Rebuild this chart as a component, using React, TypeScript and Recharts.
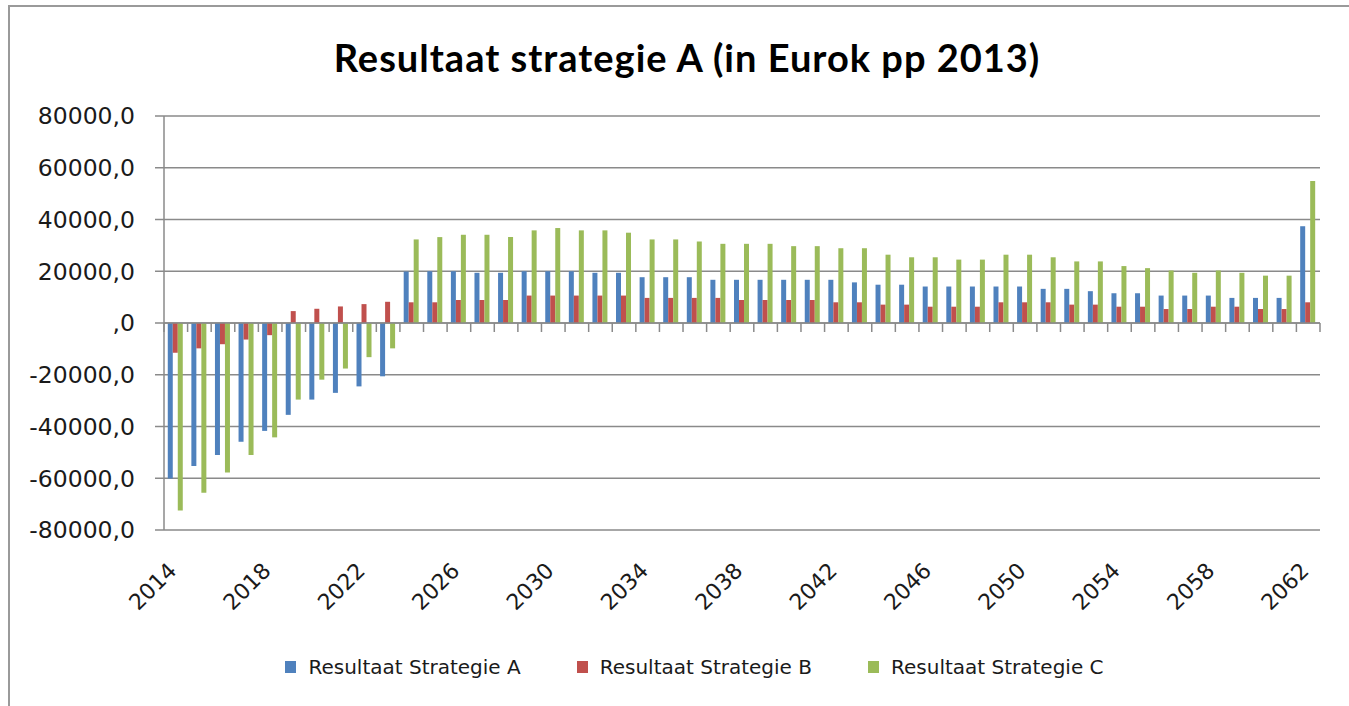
import React from 'react';
import { BarChart, Bar, XAxis, YAxis, CartesianGrid, ReferenceLine, Legend } from 'recharts';

const years = [
  '2014', '2015', '2016', '2017', '2018', '2019', '2020', '2021', '2022', '2023',
  '2024', '2025', '2026', '2027', '2028', '2029', '2030', '2031', '2032', '2033',
  '2034', '2035', '2036', '2037', '2038', '2039', '2040', '2041', '2042', '2043',
  '2044', '2045', '2046', '2047', '2048', '2049', '2050', '2051', '2052', '2053',
  '2054', '2055', '2056', '2057', '2058', '2059', '2060', '2061', '2062',
];

const strategieA = [
  -60100, -55300, -51000, -45900, -41700, -35500, -29600, -27000, -24500, -20600,
  19900, 20000, 20000, 19400, 19400, 20000, 20000, 20000, 19400, 19400,
  17700, 17700, 17700, 16700, 16700, 16700, 16700, 16700, 16700, 15700,
  14800, 14800, 14100, 14100, 14100, 14100, 14100, 13200, 13200, 12300,
  11500, 11500, 10600, 10600, 10600, 9700, 9700, 9700, 37400,
];

const strategieB = [
  -11500, -9800, -8200, -6400, -4700, 4600, 5500, 6400, 7300, 8200,
  8000, 8000, 8900, 8900, 8900, 10600, 10600, 10600, 10600, 10600,
  9700, 9700, 9700, 9700, 8900, 8900, 8900, 8900, 8000, 8000,
  7100, 7100, 6300, 6300, 6300, 8000, 8000, 8000, 7100, 7100,
  6300, 6300, 5400, 5400, 6300, 6300, 5400, 5400, 8000,
];

const strategieC = [
  -72500, -65600, -57800, -51000, -44200, -29600, -21900, -17600, -13200, -9800,
  32300, 33200, 34100, 34100, 33200, 35800, 36700, 35800, 35800, 34900,
  32300, 32300, 31500, 30600, 30600, 30600, 29700, 29700, 28900, 28900,
  26400, 25400, 25400, 24500, 24500, 26400, 26400, 25400, 23800, 23800,
  22000, 21200, 20300, 19400, 20300, 19400, 18300, 18300, 54900,
];

const yTicks = [-80000, -60000, -40000, -20000, 0, 20000, 40000, 60000, 80000];

const seriesKeys = ['A', 'B', 'C'];
const seriesNames = ['Resultaat Strategie A', 'Resultaat Strategie B', 'Resultaat Strategie C'];
const seriesColors = ['#4F81BD', '#C0504D', '#9BBB59'];

const titleText = 'Resultaat strategie A (in Eurok pp 2013)';

const data = years.map((year, i) => ({
  year,
  A: strategieA[i],
  B: strategieB[i],
  C: strategieC[i],
}));

const AXIS_COLOR = '#8a8a8a';
const LABEL_FONT = '"DejaVu Sans", Verdana, sans-serif';

const formatY = (v: number) => (v === 0 ? ',0' : `${v},0`);

const XTick = (props: any) => {
  const { x, y, payload } = props;
  const ax = x + 2;
  const ay = y + 42;
  return (
    <text
      x={ax}
      y={ay}
      transform={`rotate(-45 ${ax} ${ay})`}
      textAnchor="end"
      fontSize={22}
      fontFamily={LABEL_FONT}
      fill="#1a1a1a"
    >
      {payload.value}
    </text>
  );
};

const ZeroAxis = (props: any) => {
  const { x1, y1, x2, y2 } = props;
  const n = years.length;
  const ticks = [];
  for (let i = 0; i <= n; i++) {
    const tx = x1 + ((x2 - x1) * i) / n;
    ticks.push(<line key={i} x1={tx} y1={y1} x2={tx} y2={y1 + 9} stroke={AXIS_COLOR} strokeWidth={1.5} />);
  }
  return (
    <g>
      <line x1={x1} y1={y1} x2={x2} y2={y2} stroke={AXIS_COLOR} strokeWidth={1.5} />
      {ticks}
    </g>
  );
};

const LegendContent = (props: any) => {
  const payload = props.payload && props.payload.length ? props.payload : seriesNames.map((n, i) => ({ value: n, color: seriesColors[i] }));
  return (
    <div
      style={{
        display: 'flex',
        justifyContent: 'center',
        gap: 56,
        fontFamily: LABEL_FONT,
        fontSize: 20,
        color: '#1a1a1a',
      }}
    >
      {payload.map((p: any) => (
        <div key={p.value} style={{ display: 'flex', alignItems: 'center' }}>
          <span style={{ width: 11, height: 12, background: p.color, display: 'inline-block', marginRight: 12 }} />
          <span>{p.value}</span>
        </div>
      ))}
    </div>
  );
};

export default function App() {
  return (
    <div style={{ position: 'absolute', left: 0, top: 0, width: 1349, height: 706, background: '#fff', overflow: 'hidden' }}>
      <div
        style={{
          position: 'absolute',
          left: 8,
          top: 5,
          width: 1360,
          height: 720,
          borderLeft: '2px solid #9a9a9a',
          borderTop: '2px solid #9a9a9a',
        }}
      />
      <div
        style={{
          position: 'absolute',
          left: 0,
          width: 1374,
          top: 34,
          textAlign: 'center',
          fontFamily: 'Lato, "Open Sans", sans-serif',
          fontWeight: 700,
          fontSize: 38,
          letterSpacing: 1,
          color: '#000',
          lineHeight: '46px',
        }}
      >
        {titleText}
      </div>
      <div style={{ position: 'absolute', left: 0, top: 0 }}>
        <BarChart
          width={1349}
          height={706}
          data={data}
          margin={{ top: 116, right: 29, left: 14, bottom: 116 }}
          barCategoryGap="16%"
          barGap={0}
        >
          <CartesianGrid horizontal vertical={false} stroke={AXIS_COLOR} strokeWidth={1.5} />
          <XAxis
            dataKey="year"
            height={60}
            interval={3}
            axisLine={false}
            tickLine={false}
            tickSize={0}
            tickMargin={0}
            tick={<XTick />}
          />
          <YAxis
            width={150}
            domain={[-80000, 80000]}
            ticks={yTicks}
            tickFormatter={formatY}
            axisLine={{ stroke: AXIS_COLOR, strokeWidth: 1.5 }}
            tickLine={{ stroke: AXIS_COLOR, strokeWidth: 1.5 }}
            tickSize={9}
            tickMargin={20}
            tick={{ fontSize: 23.5, fontFamily: LABEL_FONT, fill: '#1a1a1a' }}
            allowDataOverflow
          />
          {seriesKeys.map((k, i) => (
            <Bar key={k} dataKey={k} name={seriesNames[i]} fill={seriesColors[i]} isAnimationActive={false} />
          ))}
          <ReferenceLine y={0} shape={<ZeroAxis />} />
          <Legend
            layout="horizontal"
            verticalAlign="middle"
            align="center"
            wrapperStyle={{ top: 655, left: 20, width: 1349 }}
            content={<LegendContent />}
          />
        </BarChart>
      </div>
    </div>
  );
}
